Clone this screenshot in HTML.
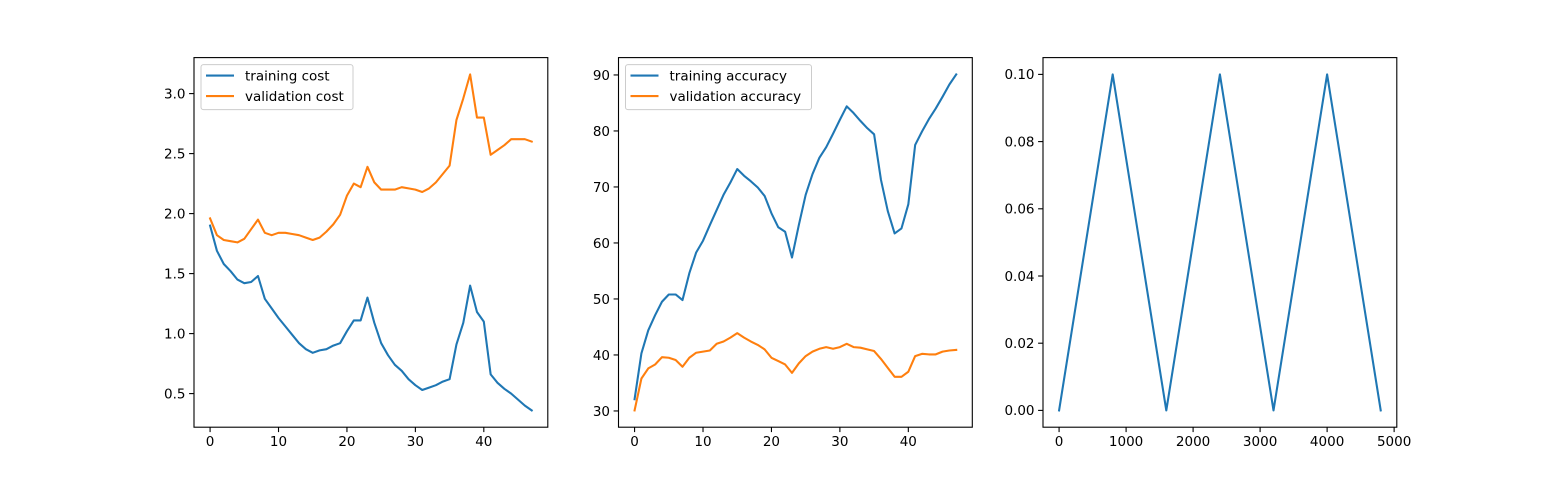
<!DOCTYPE html>
<html><head><meta charset="utf-8"><style>
body{margin:0;background:#fff;}
svg{display:block;font-family:"DejaVu Sans","Liberation Sans",sans-serif;}
</style></head><body>
<svg id="fig" width="1552" height="480" viewBox="0 0 1552 480"></svg>
<script>
const epochs = Array.from({length:48},(_,i)=>i);
const trainCost = [1.90,1.69,1.58,1.52,1.45,1.42,1.43,1.48,1.29,1.21,1.13,1.06,0.99,0.92,0.87,0.84,0.86,0.87,0.90,0.92,1.02,1.11,1.11,1.30,1.09,0.92,0.82,0.74,0.69,0.62,0.57,0.53,0.55,0.57,0.60,0.62,0.91,1.09,1.40,1.18,1.10,0.66,0.59,0.54,0.50,0.45,0.40,0.36];
const valCost = [1.96,1.82,1.78,1.77,1.76,1.79,1.87,1.95,1.84,1.82,1.84,1.84,1.83,1.82,1.80,1.78,1.80,1.85,1.91,1.99,2.15,2.25,2.22,2.39,2.26,2.20,2.20,2.20,2.22,2.21,2.20,2.18,2.21,2.26,2.33,2.40,2.78,2.96,3.16,2.80,2.80,2.49,2.53,2.57,2.62,2.62,2.62,2.60];
const trainAcc = [32.1,40.3,44.4,47.1,49.5,50.8,50.8,49.8,54.6,58.3,60.4,63.2,65.9,68.6,70.8,73.2,72.0,71.0,69.9,68.4,65.3,62.8,62.0,57.4,63.2,68.6,72.3,75.2,77.1,79.5,82.0,84.4,83.2,81.8,80.5,79.4,71.3,65.7,61.7,62.6,66.9,77.5,79.9,82.1,84.0,86.1,88.3,90.1];
const valAcc = [30.1,35.8,37.6,38.3,39.6,39.5,39.1,37.9,39.5,40.4,40.6,40.8,42.0,42.4,43.1,43.9,43.1,42.4,41.8,41.0,39.5,38.9,38.3,36.8,38.5,39.8,40.6,41.1,41.4,41.1,41.4,42.0,41.4,41.3,41.0,40.7,39.3,37.7,36.1,36.1,37.0,39.8,40.2,40.1,40.1,40.6,40.8,40.9];
const lrSteps = [0,800,1600,2400,3200,4000,4800];
const lrValues = [0,0.1,0,0.1,0,0.1,0];
const ticksEpoch = [0,10,20,30,40];
const ticksCost = [0.5,1.0,1.5,2.0,2.5,3.0];
const ticksAcc = [30,40,50,60,70,80,90];
const ticksLrX = [0,1000,2000,3000,4000,5000];
const ticksLrY = [0,0.02,0.04,0.06,0.08,0.10];

const NS="http://www.w3.org/2000/svg";
const svg=document.getElementById('fig');
function mk(tag,attrs,parent){const e=document.createElementNS(NS,tag);for(const k in attrs)e.setAttribute(k,attrs[k]);(parent||svg).appendChild(e);return e;}
function lim(arrs){let mn=Infinity,mx=-Infinity;arrs.forEach(a=>a.forEach(v=>{mn=Math.min(mn,v);mx=Math.max(mx,v);}));const m=(mx-mn)*0.05;return [mn-m,mx+m];}

function panel(name,x0,x1,series,xs,xt,yt,xfmt,yfmt,legend){
  const y0=57.6,y1=427.2;
  const g=mk('g',{});
  
  
  const xl=lim([xs]);const yl=lim(series.map(s=>s.v));
  const X=v=>x0+(v-xl[0])/(xl[1]-xl[0])*(x1-x0);
  const Y=v=>y1-(v-yl[0])/(yl[1]-yl[0])*(y1-y0);
  series.forEach(s=>{
    const p=mk('polyline',{points:s.v.map((v,i)=>X(xs[i])+','+Y(v)).join(' '),fill:'none',stroke:s.c,'stroke-width':2.08,'stroke-linejoin':'round','stroke-linecap':'square'},g);
    
    
  });
  const fr=mk('rect',{x:x0,y:y0,width:x1-x0,height:y1-y0,fill:'none',stroke:'#000','stroke-width':1.1},g);
  
  
  xt.forEach(t=>{const x=X(t);mk('line',{x1:x,x2:x,y1:y1,y2:y1+4.9,stroke:'#000','stroke-width':1.1},g);
    const tx=mk('text',{x:x,y:y1+19,'text-anchor':'middle','font-size':13.5,fill:'#000'},g);tx.textContent=xfmt(t);
    
    });
  yt.forEach(t=>{const y=Y(t);mk('line',{x1:x0-4.9,x2:x0,y1:y,y2:y,stroke:'#000','stroke-width':1.1},g);
    const tx=mk('text',{x:x0-8.5,y:y+4.8,'text-anchor':'end','font-size':13.5,fill:'#000'},g);tx.textContent=yfmt(t);
    
    });
  if(legend){
    const lg=mk('g',{},g);
    
    
    mk('rect',{x:x0+7,y:y0+7,width:legend.w,height:45,rx:2.5,fill:'#fff','fill-opacity':0.8,stroke:'#ccc','stroke-width':1},lg);
    series.forEach((s,i)=>{const ly=y0+18+i*20.5;
      mk('line',{x1:x0+12,x2:x0+40,y1:ly,y2:ly,stroke:s.c,'stroke-width':2.08},lg);
      const tx=mk('text',{x:x0+51,y:ly+4.8,'font-size':13.5,fill:'#000'},lg);tx.textContent=s.label;
      
      });
  }
}
const B='#1f77b4',O='#ff7f0e';
panel('cost-chart',194,547.8,[{v:trainCost,c:B,n:'training-cost-line',label:'training cost'},{v:valCost,c:O,n:'validation-cost-line',label:'validation cost'}],epochs,ticksEpoch,ticksCost,t=>String(t),t=>t.toFixed(1),{w:152});
panel('accuracy-chart',618.5,972.3,[{v:trainAcc,c:B,n:'training-accuracy-line',label:'training accuracy'},{v:valAcc,c:O,n:'validation-accuracy-line',label:'validation accuracy'}],epochs,ticksEpoch,ticksAcc,t=>String(t),t=>String(t),{w:186});
panel('learning-rate-chart',1043,1396.8,[{v:lrValues,c:B,n:'learning-rate-line'}],lrSteps,ticksLrX,ticksLrY,t=>String(t),t=>t.toFixed(2),null);
</script>
</body></html>
